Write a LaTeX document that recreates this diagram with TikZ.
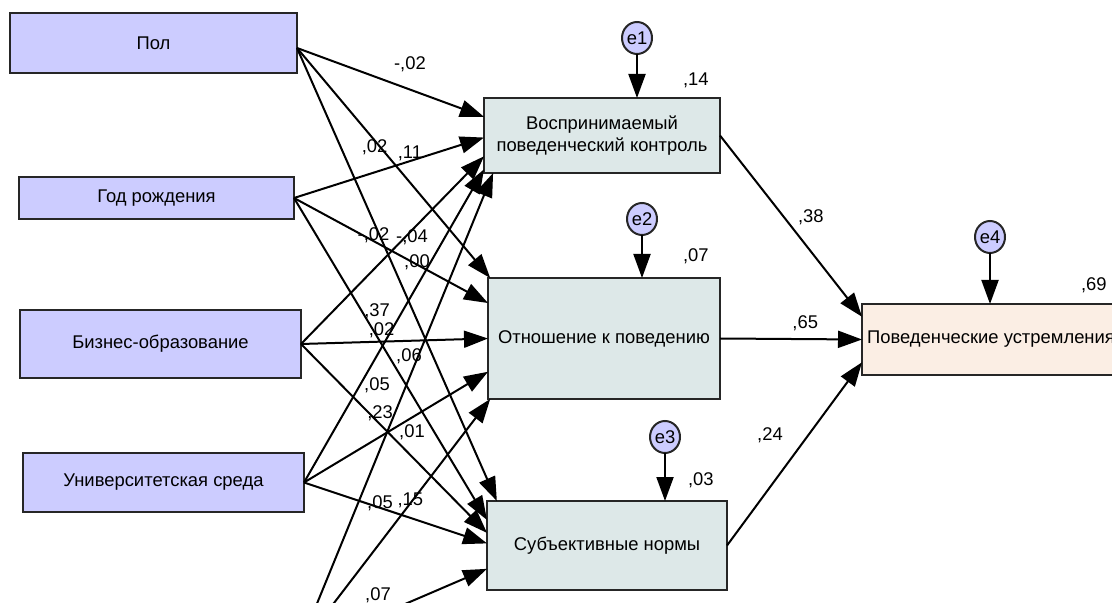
\documentclass[tikz,border=0pt]{standalone}
\usepackage{fontspec}
\setmainfont{Liberation Sans}
\usetikzlibrary{arrows.meta, positioning, calc, shapes.geometric}

\definecolor{exofill}{HTML}{CCCCFF}
\definecolor{endofill}{HTML}{DDE8E8}
\definecolor{outfill}{HTML}{FBEEE4}

\begin{document}
\begin{tikzpicture}[
  x=0.5pt, y=-0.5pt,
  every node/.style = {font=\fontsize{9.2}{11}\selectfont},
  block/.style = {draw=black!85, line width=1pt, outer sep=0pt, inner sep=2pt, align=center},
  exo/.style = {block, fill=exofill},
  endo/.style = {block, fill=endofill},
  errc/.style = {ellipse, draw=black!85, line width=1pt, fill=exofill, minimum width=15pt, minimum height=16pt, inner sep=0pt, outer sep=0pt},
  arrow/.style = {line width=1pt, -{Triangle[length=12pt, width=8.5pt]}},
  coef/.style = {inner sep=1pt}
]

  \useasboundingbox (0,0) rectangle (1112,603);
  \clip (0,0) rectangle (1112,603);

  % Exogenous variables
  \node[exo, minimum width=143.5pt, minimum height=30pt] (pol) at (153.5,43) {Пол};
  \node[exo, minimum width=137.5pt, minimum height=21pt] (god) at (156.5,198) {Год рождения};
  \node[exo, minimum width=140.5pt, minimum height=34pt] (biz) at (160.5,344) {Бизнес-образование};
  \node[exo, minimum width=140.5pt, minimum height=29.5pt] (univ) at (163.5,482.5) {Университетская среда};
  \coordinate (polout) at ([yshift=-2.5pt]pol.east);
  \coordinate (fifth) at (298,650);

  % Mediators
  \node[endo, minimum width=118pt, minimum height=37.5pt] (pbc) at (602,135.5) {Воспринимаемый\\поведенческий контроль};
  \node[endo, minimum width=116pt, minimum height=60.5pt] (otn) at (604,338.5) {Отношение к поведению};
  \node[endo, minimum width=120pt, minimum height=44.5pt] (subj) at (607,545.5) {Субъективные нормы};

  % Outcome
  \node[block, fill=outfill, minimum width=129pt, minimum height=35.5pt] (pov) at (991,339.5) {Поведенческие устремления};

  % Error terms
  \node[errc] (e1) at (637,38) {e1};
  \node[errc] (e2) at (642,219) {e2};
  \node[errc] (e3) at (665,437) {e3};
  \node[errc] (e4) at (990,237) {e4};
  \draw[arrow] (e1) -- (e1 |- pbc.north);
  \draw[arrow] (e2) -- (e2 |- otn.north);
  \draw[arrow] (e3) -- (e3 |- subj.north);
  \draw[arrow] (e4) -- (e4 |- pov.north);

  % Squared multiple correlations
  \node[coef, above left=4pt and 4.5pt of pbc.north east] (r2pbc) {,14};
  \node[coef, above left=6pt and 4.5pt of otn.north east] (r2otn) {,07};
  \node[coef, above left=5.5pt and 5.5pt of subj.north east] (r2subj) {,03};
  \node[coef, above left=4.5pt and 5.5pt of pov.north east] (r2pov) {,69};

  % Пол
  \draw[arrow] (polout) -- node[coef, pos=.604, shift={(0,-25)}] {-,02} (pbc.171);
  \draw[arrow] (polout) -- node[coef, pos=.433, shift={(-6,0)}] {,02} (otn.152);
  \draw[arrow] (polout) -- node[coef, pos=.413, shift={(-6,0)}] {-,02} (subj.158);

  % Год рождения
  \draw[arrow] (god.east) -- node[coef, pos=.363, shift={(13,-4)}] {,37} (subj.168);
  \draw[arrow] (god.east) -- node[coef, pos=.61, shift={(0,-8)}] {,11} (pbc.181);
  \draw[arrow] (god.east) -- node[coef, pos=.634, shift={(0,-2)}] {,00} (otn.163);

  % Бизнес-образование
  \draw[arrow] (biz.east) -- node[coef, pos=.607, shift={(0,7.5)}] {-,04} (pbc.190);
  \draw[arrow] (biz.east) -- node[coef, pos=.42, shift={(2,-11)}] {,02} (otn.180);
  \draw[arrow] (biz.east) -- node[coef, pos=.425, shift={(0,-11)}] {,23} (subj.174);

  % Университетская среда
  \draw[arrow] (univ.east) -- node[coef, pos=.311, shift={(17,0)}] {,05} (pbc.196);
  \draw[arrow] (univ.east) -- node[coef, pos=.587, shift={(0,15)}] {,01} (otn.196);
  \draw[arrow] (univ.east) -- node[coef, pos=.415, shift={(0,-5)}] {,05} (subj.179);

  % fifth predictor, below the frame
  \draw[arrow] (fifth) -- node[coef, pos=.615, shift={(-9,0)}] {,06} (pbc.199);
  \draw[arrow] (fifth) -- node[coef, pos=.595, shift={(-2,0)}] {,15} (otn.208);
  \draw[arrow] (fifth) -- node[coef, pos=.423, shift={(0,-20)}] {,07} (subj.191);

  % Mediators -> outcome
  \draw[arrow] (pbc.east) -- node[coef, pos=.45, shift={(27,0)}] {,38} (pov.170);
  \draw[arrow] (otn.east) -- node[coef, pos=.6, shift={(0,-16)}] {,65} (pov.west);
  \draw[arrow] (subj.east) -- node[coef, pos=.6, shift={(-38,0)}] {,24} (pov.190);

\end{tikzpicture}
\end{document}
